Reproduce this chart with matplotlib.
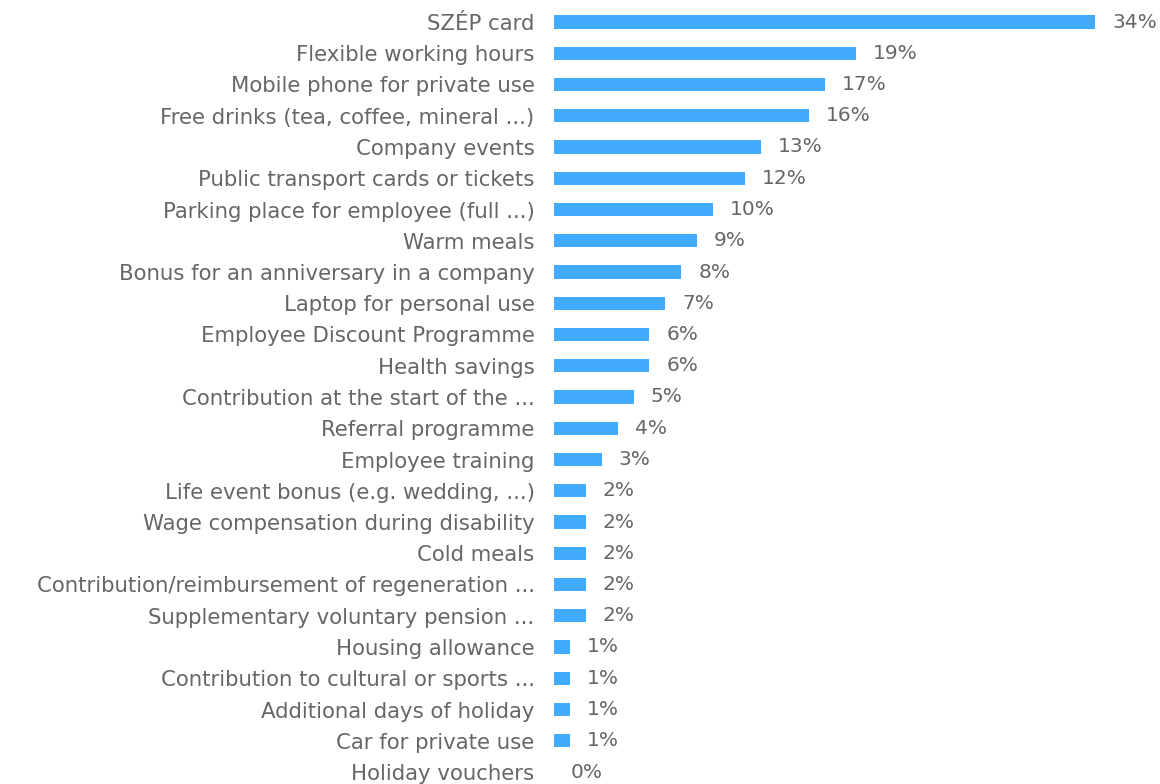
import matplotlib
matplotlib.use("Agg")
import matplotlib.pyplot as plt

categories = [
    "SZÉP card",
    "Flexible working hours",
    "Mobile phone for private use",
    "Free drinks (tea, coffee, mineral ...)",
    "Company events",
    "Public transport cards or tickets",
    "Parking place for employee (full ...)",
    "Warm meals",
    "Bonus for an anniversary in a company",
    "Laptop for personal use",
    "Employee Discount Programme",
    "Health savings",
    "Contribution at the start of the ...",
    "Referral programme",
    "Employee training",
    "Life event bonus (e.g. wedding, ...)",
    "Wage compensation during disability",
    "Cold meals",
    "Contribution/reimbursement of regeneration ...",
    "Supplementary voluntary pension ...",
    "Housing allowance",
    "Contribution to cultural or sports ...",
    "Additional days of holiday",
    "Car for private use",
    "Holiday vouchers",
]
values = [34, 19, 17, 16, 13, 12, 10, 9, 8, 7, 6, 6, 5, 4, 3, 2, 2, 2, 2, 2, 1, 1, 1, 1, 0]

W, H = 1160, 784
fig = plt.figure(figsize=(W / 100, H / 100), dpi=100)
ax = fig.add_axes([554 / W, 0, 541 / W, 778 / H])

bar_color = "#42aaff"
text_color = "#666666"

y = list(range(len(categories)))
ax.barh(y, values, height=0.42, color=bar_color)
ax.set_xlim(0, 34)
ax.set_ylim(24.384, -0.512)
ax.set_yticks(y)
ax.set_yticklabels(categories, fontsize=15.3, color=text_color)
ax.tick_params(axis="y", length=0, pad=14)
ax.set_xticks([])
for s in ax.spines.values():
    s.set_visible(False)

for yi, v in zip(y, values):
    ax.annotate(f"{v}%", xy=(v, yi), xytext=(12.2, 0), textcoords="offset points",
                va="center", ha="left", fontsize=14.5, color=text_color, clip_on=False)

fig.savefig("out.png", dpi=100)
